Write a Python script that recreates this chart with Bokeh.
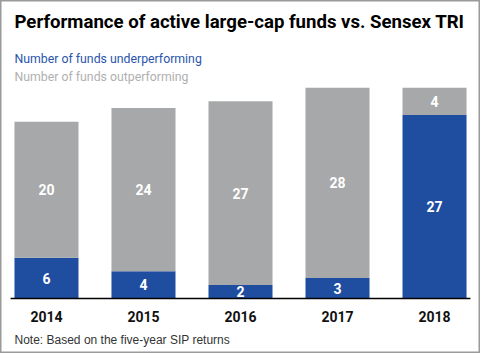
from bokeh.plotting import figure
from bokeh.models import Range1d, Label, ColumnDataSource
from bokeh.core.properties import value
from bokeh.embed import file_html
from bokeh.resources import INLINE

years = ["2014", "2015", "2016", "2017", "2018"]
under = [6, 4, 2, 3, 27]
out = [20, 24, 27, 28, 4]

BLUE = "#1f4ea1"
GRAY = "#a7a8aa"

xs = list(range(len(years)))
tops = [u + o for u, o in zip(under, out)]
src = ColumnDataSource(dict(
    x=xs, years=years, under=under, out=out, tops=tops,
    under_mid=[u / 2 for u in under],
    out_mid=[u + o / 2 for u, o in zip(under, out)],
    under_lbl=[str(u) for u in under],
    out_lbl=[str(o) for o in out],
    zero=[0] * len(years),
))

p = figure(width=480, height=353, output_backend="svg", toolbar_location=None,
           x_range=Range1d(-0.474, 4.474), y_range=Range1d(-8.09, 43.82),
           min_border=0)
p.axis.visible = False
p.grid.visible = False
p.background_fill_color = "white"
p.border_fill_color = "white"
p.outline_line_color = "#9a9a9a"
p.outline_line_width = 2

p.vbar(x="x", bottom="zero", top="under", width=0.66, source=src,
       fill_color=BLUE, line_color=None)
p.vbar(x="x", bottom="under", top="tops", width=0.66, source=src,
       fill_color=GRAY, line_color=None)

# baseline
p.segment(x0=xs[0] - 0.37, x1=xs[-1] + 0.37, y0=0, y1=0, line_color="black", line_width=1.5)

COND = "Roboto"
lab_font = value("Roboto")
p.text(x="x", y="under_mid", text="under_lbl", source=src, text_color="white",
       text_font=lab_font, text_font_style="bold", text_font_size="14px",
       text_align="center", text_baseline="middle")
p.text(x="x", y="out_mid", text="out_lbl", source=src, text_color="white",
       text_font=lab_font, text_font_style="bold", text_font_size="14px",
       text_align="center", text_baseline="middle")
p.text(x="x", y=-2.65, text="years", source=src, text_color="#111111",
       text_font=lab_font, text_font_style="bold", text_font_size="14px",
       text_align="center", text_baseline="middle")

title = Label(x=14, y=353 - 21, x_units="screen", y_units="screen",
              text="Performance of active large-cap funds vs. Sensex TRI",
              text_font=COND, text_font_style="bold",
              text_font_size="18.6px", text_color="black", text_baseline="middle")
leg1 = Label(x=14, y=353 - 58, x_units="screen", y_units="screen",
             text="Number of funds underperforming",
             text_font=COND, text_font_size="12.3px",
             text_color="#2a55ad", text_baseline="middle")
leg2 = Label(x=14, y=353 - 76, x_units="screen", y_units="screen",
             text="Number of funds outperforming",
             text_font=COND, text_font_size="12.3px",
             text_color="#b0b0b0", text_baseline="middle")
note = Label(x=14, y=353 - 339, x_units="screen", y_units="screen",
             text="Note: Based on the five-year SIP returns",
             text_font="Liberation Sans", text_font_size="12px",
             text_color="#333333", text_baseline="middle")
for l in (title, leg1, leg2, note):
    p.add_layout(l)

open("out.html", "w").write(file_html(p, INLINE))
